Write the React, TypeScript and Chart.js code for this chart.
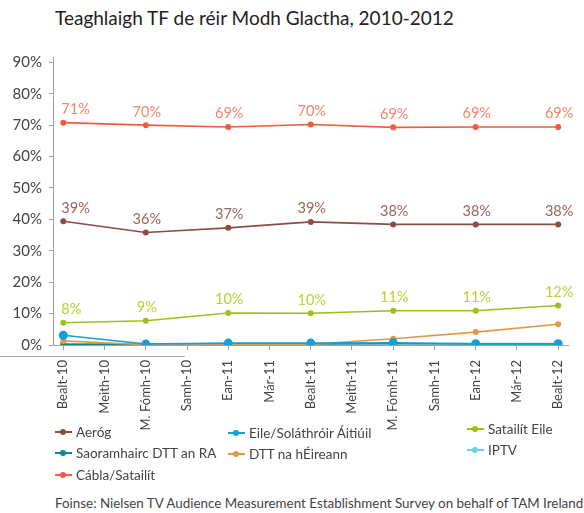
import React, { useEffect, useRef } from "react";
import { Chart, registerables } from "chart.js";

Chart.register(...registerables);

const TITLE = "Teaghlaigh TF de réir Modh Glactha, 2010-2012";
const SOURCE = "Foinse: Nielsen TV Audience Measurement Establishment Survey on behalf of TAM Ireland";

const CATEGORIES = [
  "Bealt-10", "Meith-10", "M. Fómh-10", "Samh-10", "Ean-11", "Már-11", "Bealt-11",
  "Meith-11", "M. Fómh-11", "Samh-11", "Ean-12", "Már-12", "Bealt-12",
];
const SURVEY_DATES = ["Bealt-10", "M. Fómh-10", "Ean-11", "Bealt-11", "M. Fómh-11", "Ean-12", "Bealt-12"];

const Y_TICKS = [0, 10, 20, 30, 40, 50, 60, 70, 80, 90];

const AEROG = [39.4, 35.8, 37.3, 39.2, 38.4, 38.4, 38.4];
const AEROG_LABELS = ["39%", "36%", "37%", "39%", "38%", "38%", "38%"];
const EILE_AITIUIL = [3.1, 0.3, 0.6, 0.6, 0.7, 0.4, 0.4];
const SATAILIT_EILE = [7.1, 7.7, 10.2, 10.1, 10.9, 10.9, 12.6];
const SATAILIT_EILE_LABELS = ["8%", "9%", "10%", "10%", "11%", "11%", "12%"];
const SAORAMHAIRC = [0.2, 0.2, 0.3, 0.3, 0.4, 0.3, 0.3];
const DTT_EIREANN = [1.3, 0.1, 0.1, 0.2, 2.0, 4.1, 6.6];
const IPTV = [0.3, 0.3, 0.4, 0.4, 0.5, 0.5, 0.5];
const CABLA = [70.8, 70.0, 69.4, 70.2, 69.3, 69.4, 69.4];
const CABLA_LABELS = ["71%", "70%", "69%", "70%", "69%", "69%", "69%"];

const FONT = "Lato, 'Open Sans', sans-serif";

type Series = {
  name: string;
  values: number[];
  color: string;
  labels?: string[];
  labelColor?: string;
  radius: number;
  order: number;
};

const SERIES: Series[] = [
  { name: "Aeróg", values: AEROG, color: "#8f4c45", labels: AEROG_LABELS, labelColor: "#a0645c", radius: 3, order: 3 },
  { name: "Eile/Soláthróir Áitiúil", values: EILE_AITIUIL, color: "#0da0dd", radius: 4.5, order: 0 },
  { name: "Satailít Eile", values: SATAILIT_EILE, color: "#99c31a", labels: SATAILIT_EILE_LABELS, labelColor: "#b5d335", radius: 3, order: 2 },
  { name: "Saoramhairc DTT an RA", values: SAORAMHAIRC, color: "#148691", radius: 3, order: 4 },
  { name: "DTT na hÉireann", values: DTT_EIREANN, color: "#e09a45", radius: 3, order: 1 },
  { name: "IPTV", values: IPTV, color: "#6dcff6", radius: 3, order: 5 },
  { name: "Cábla/Satailít", values: CABLA, color: "#f15a3c", labels: CABLA_LABELS, labelColor: "#f5846f", radius: 3, order: 6 },
];

const LEGEND_LAYOUT: { name: string; left: number; top: number }[] = [
  { name: "Aeróg", left: 55, top: 432 },
  { name: "Saoramhairc DTT an RA", left: 55, top: 453 },
  { name: "Cábla/Satailít", left: 55, top: 475 },
  { name: "Eile/Soláthróir Áitiúil", left: 228, top: 433 },
  { name: "DTT na hÉireann", left: 228, top: 454 },
  { name: "Satailít Eile", left: 467, top: 429 },
  { name: "IPTV", left: 467, top: 450 },
];

const labelPlugin = {
  id: "pointLabels",
  afterDatasetsDraw(chart: any) {
    const ctx = chart.ctx;
    ctx.save();
    ctx.font = `14.5px ${FONT}`;
    ctx.textBaseline = "bottom";
    chart.data.datasets.forEach((ds: any, i: number) => {
      if (!ds.pointLabelTexts) return;
      const meta = chart.getDatasetMeta(i);
      ctx.fillStyle = ds.pointLabelColor;
      meta.data.forEach((pt: any, j: number) => {
        if (j === 0) {
          ctx.textAlign = "left";
          ctx.fillText(ds.pointLabelTexts[j], pt.x - 2, pt.y - 6);
        } else {
          ctx.textAlign = "center";
          ctx.fillText(ds.pointLabelTexts[j], pt.x + 1, pt.y - 6);
        }
      });
    });
    ctx.restore();
  },
};

function LegendItem({ s, left, top }: { s: Series; left: number; top: number }) {
  return (
    <div style={{ position: "absolute", left, top: top - 9, height: 18, display: "flex", alignItems: "center" }}>
      <div style={{ position: "relative", width: 17, height: 18, marginRight: 4 }}>
        <div style={{ position: "absolute", left: 0, top: 8, width: 17, height: 2, background: s.color }} />
        <div style={{ position: "absolute", left: 5, top: 6, width: 6, height: 6, borderRadius: 3, background: s.color }} />
      </div>
      <span style={{ fontFamily: FONT, fontSize: 13.5, color: "#444", whiteSpace: "nowrap" }}>{s.name}</span>
    </div>
  );
}

export default function App() {
  const canvasRef = useRef<HTMLCanvasElement | null>(null);

  useEffect(() => {
    if (!canvasRef.current) return;
    const datasets = SERIES.map((s) => ({
      label: s.name,
      data: s.values.map((v, i) => ({ x: CATEGORIES.indexOf(SURVEY_DATES[i]), y: v })),
      borderColor: s.color,
      backgroundColor: s.color,
      pointBackgroundColor: s.color,
      pointBorderColor: s.color,
      pointRadius: s.radius,
      pointBorderWidth: 0,
      borderWidth: 1.6,
      tension: 0,
      order: s.order,
      pointLabelTexts: s.labels,
      pointLabelColor: s.labelColor,
    }));
    const chart = new Chart(canvasRef.current, {
      type: "line",
      data: { datasets: datasets as any },
      plugins: [labelPlugin],
      options: {
        animation: false,
        responsive: false,
        maintainAspectRatio: false,
        layout: { padding: { top: 57, right: 11, left: 0, bottom: 0 } },
        plugins: { legend: { display: false }, tooltip: { enabled: false }, title: { display: false } },
        scales: {
          x: {
            type: "linear",
            min: -0.25,
            max: 12.26,
            afterBuildTicks: (scale: any) => {
              scale.ticks = CATEGORIES.map((_, i) => ({ value: i }));
            },
            afterFit: (scale: any) => {
              scale.height = 87;
            },
            grid: { drawOnChartArea: false, drawTicks: true, tickLength: 5, color: "#a0a0a0" },
            border: { color: "#a0a0a0", width: 1 },
            ticks: {
              autoSkip: false,
              minRotation: 90,
              maxRotation: 90,
              padding: 10,
              color: "#444",
              font: { family: FONT, size: 13 },
              callback: (v: any) => CATEGORIES[v as number] ?? "",
            },
          },
          y: {
            min: 0,
            max: 91.7,
            afterBuildTicks: (scale: any) => {
              scale.ticks = Y_TICKS.map((v) => ({ value: v }));
            },
            afterFit: (scale: any) => {
              scale.width = 53;
            },
            grid: { drawOnChartArea: false, drawTicks: true, tickLength: 4, color: "#a0a0a0" },
            border: { color: "#a0a0a0", width: 1 },
            ticks: {
              padding: 7,
              color: "#444",
              font: { family: FONT, size: 15 },
              callback: (v: any) => `${v}%`,
            },
          },
        },
      } as any,
    });
    return () => chart.destroy();
  }, []);

  return (
    <div style={{ position: "absolute", left: 0, top: 0, width: 584, height: 513, background: "#fff", overflow: "hidden" }}>
      <div style={{ position: "absolute", left: 55, top: 6, fontFamily: FONT, fontSize: 19, color: "#222", whiteSpace: "nowrap" }}>
        {TITLE}
      </div>
      <canvas ref={canvasRef} width={584} height={432} style={{ position: "absolute", left: 0, top: 0, width: 584, height: 432 }} />
      <div style={{ position: "absolute", left: 0, top: 356, width: 185, height: 1, background: "#b0b0b0" }} />
      {LEGEND_LAYOUT.map((l) => {
        const s = SERIES.find((x) => x.name === l.name)!;
        return <LegendItem key={l.name} s={s} left={l.left} top={l.top} />;
      })}
      <div style={{ position: "absolute", left: 55, top: 495, fontFamily: FONT, fontSize: 13.4, color: "#444", whiteSpace: "nowrap" }}>
        {SOURCE}
      </div>
    </div>
  );
}
